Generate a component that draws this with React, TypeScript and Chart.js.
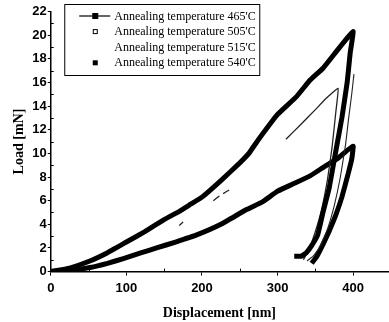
import React, { useEffect, useRef } from "react";
import { Chart, registerables } from "chart.js";

Chart.register(...registerables);

// ---- data ----
const xTicksMajor = [0, 100, 200, 300, 400];
const yTicksMajor = [0, 2, 4, 6, 8, 10, 12, 14, 16, 18, 20, 22];

const seriesLabels = [
  "Annealing temperature 465'C",
  "Annealing temperature 505'C",
  "Annealing temperature 515'C",
  "Annealing temperature 540'C",
];

// 465 (upper thick curve): loading then unloading
const s465X = [0, 25, 50, 75, 100, 125, 150, 170, 185, 200, 225, 250, 262, 275, 300, 325, 343, 360, 375, 390, 400,
  396, 392, 385, 377, 368, 360, 353, 345, 338, 331, 322];
const s465Y = [0, 0.3, 0.85, 1.6, 2.5, 3.4, 4.4, 5.1, 5.7, 6.3, 7.7, 9.2, 10.0, 11.2, 13.3, 14.8, 16.2, 17.2, 18.4, 19.6, 20.3,
  18.5, 16.0, 13.0, 10.2, 7.0, 5.0, 3.1, 2.2, 1.6, 1.3, 1.3];

// 505 (thin, mostly faint): visible fragments only
const s505X = [170, 175, 176, 215, 223, 224, 228, 236, 237, 311, 330, 350, 365, 380, 377, 372, 366, 358, 349, 341, 334];
const s505Y = [3.9, 4.2, null, 6.0, 6.4, null, 6.6, 6.9, null, 11.2, 12.4, 13.7, 14.7, 15.5, 13.5, 10.5, 7.8, 5.2, 3.2, 1.8, 1.0];

// 515 (thin): unloading branch
const s515X = [401, 398, 394, 390, 383, 375, 366, 356, 347, 339];
const s515Y = [16.7, 15.0, 13.0, 10.8, 8.0, 5.6, 3.6, 2.1, 1.3, 0.9];

// 540 (lower thick curve): loading then unloading
const s540X = [0, 25, 52, 75, 96, 120, 140, 165, 193, 225, 259, 280, 300, 320, 343, 360, 380, 395, 400,
  398, 393, 385, 377, 368, 360, 352, 345];
const s540Y = [0, 0.1, 0.35, 0.7, 1.1, 1.6, 2.0, 2.5, 3.1, 4.0, 5.25, 5.9, 6.8, 7.4, 8.1, 8.8, 9.6, 10.4, 10.6,
  9.5, 8.2, 6.3, 4.8, 3.4, 2.3, 1.3, 0.7];

const toPts = (xs: number[], ys: (number | null)[]) => xs.map((x, i) => ({ x, y: ys[i] }));

// legend marker kinds (style)
const legendMarkers = ["lineSquare", "openSquare", "none", "square"];

const minorTicksPlugin = {
  id: "minorTicks",
  afterDraw(chart: any) {
    const { ctx, scales } = chart;
    const xs = scales.x, ys = scales.y;
    ctx.save();
    ctx.strokeStyle = "#000";
    ctx.lineWidth = 1;
    for (let v = 50; v <= xs.max; v += 100) {
      const px = Math.round(xs.getPixelForValue(v)) + 0.5;
      ctx.beginPath();
      ctx.moveTo(px, ys.bottom);
      ctx.lineTo(px, ys.bottom - 3);
      ctx.stroke();
    }
    for (let v = 1; v < ys.max; v += 2) {
      const py = Math.round(ys.getPixelForValue(v)) + 0.5;
      ctx.beginPath();
      ctx.moveTo(xs.left, py);
      ctx.lineTo(xs.left + 3, py);
      ctx.stroke();
    }
    ctx.restore();
  },
};

const boxLegendPlugin = {
  id: "boxLegend",
  afterDraw(chart: any) {
    const { ctx, chartArea } = chart;
    const left = chartArea.left + 13.5;
    const top = chartArea.top - 7.5;
    const w = 195;
    const h = 71;
    ctx.save();
    ctx.fillStyle = "#fff";
    ctx.fillRect(left, top, w, h);
    ctx.strokeStyle = "#000";
    ctx.lineWidth = 1;
    ctx.strokeRect(left + 0.5, top + 0.5, w, h);
    ctx.font = '12px "Liberation Serif"';
    ctx.textBaseline = "middle";
    ctx.fillStyle = "#000";
    chart.data.datasets.forEach((ds: any, i: number) => {
      const y = top + 12 + i * 15.6;
      const cx = left + 31;
      const kind = legendMarkers[i];
      if (kind === "lineSquare") {
        ctx.beginPath();
        ctx.lineWidth = 1.2;
        ctx.moveTo(left + 15, y);
        ctx.lineTo(left + 46, y);
        ctx.stroke();
        ctx.fillRect(cx - 3, y - 3, 6, 6);
      } else if (kind === "openSquare") {
        ctx.lineWidth = 1;
        ctx.strokeRect(cx - 2, y - 2, 4, 4);
      } else if (kind === "square") {
        ctx.fillRect(cx - 2.5, y - 2.5, 5, 5);
      }
      ctx.fillText(ds.label, left + 50, y + 0.5);
    });
    ctx.restore();
  },
};

export default function App() {
  const ref = useRef<HTMLCanvasElement | null>(null);
  useEffect(() => {
    if (!ref.current) return;
    const chart = new Chart(ref.current, {
      type: "scatter",
      data: {
        datasets: [
          { label: seriesLabels[0], data: toPts(s465X, s465Y), showLine: true, borderColor: "#000", borderWidth: 5, pointRadius: 0, tension: 0.1, borderJoinStyle: "round", borderCapStyle: "butt" },
          { label: seriesLabels[1], data: toPts(s505X, s505Y), showLine: true, borderColor: "#222", borderWidth: 1.3, pointRadius: 0, tension: 0.1 },
          { label: seriesLabels[2], data: toPts(s515X, s515Y), showLine: true, borderColor: "#222", borderWidth: 1.1, pointRadius: 0, tension: 0.1 },
          { label: seriesLabels[3], data: toPts(s540X, s540Y), showLine: true, borderColor: "#000", borderWidth: 5, pointRadius: 0, tension: 0.1, borderJoinStyle: "round", borderCapStyle: "butt" },
        ] as any,
      },
      options: {
        animation: false,
        responsive: false,
        devicePixelRatio: 1,
        layout: { padding: { top: 11.5, right: 1, bottom: 0, left: 10.5 } },
        plugins: { legend: { display: false }, tooltip: { enabled: false } },
        scales: {
          x: {
            type: "linear",
            min: 0,
            max: 446,
            afterBuildTicks: (axis: any) => {
              axis.ticks = [...xTicksMajor.map((v) => ({ value: v })), { value: 446 }];
            },
            afterFit: (axis: any) => {
              axis.paddingRight = 0;
            },
            ticks: {
              color: "#000",
              font: { family: '"Liberation Sans"', weight: "bold", size: 13 },
              padding: 5,
              maxRotation: 0,
              autoSkip: false,
              callback: (v: any) => (xTicksMajor.includes(v) ? String(v) : ""),
            },
            grid: {
              drawOnChartArea: false,
              drawTicks: true,
              tickLength: 4,
              tickColor: (c: any) => (c.tick && xTicksMajor.includes(c.tick.value) ? "#000" : "rgba(0,0,0,0)"),
            },
            border: { display: true, color: "#000", width: 1.5 },
            title: {
              display: true,
              text: "Displacement [nm]",
              color: "#000",
              font: { family: '"Liberation Serif"', weight: "bold", size: 14 },
              padding: { top: 4, bottom: 0 },
            },
          },
          y: {
            type: "linear",
            min: 0,
            max: 22,
            afterBuildTicks: (axis: any) => {
              axis.ticks = yTicksMajor.map((v) => ({ value: v }));
            },
            ticks: {
              color: "#000",
              font: { family: '"Liberation Sans"', weight: "bold", size: 13 },
              padding: 1,
              callback: (v: any) => String(v),
            },
            grid: { drawOnChartArea: false, drawTicks: true, tickLength: 3, tickColor: "#000" },
            border: { display: true, color: "#000", width: 1.5 },
            title: {
              display: true,
              text: "Load [mN]",
              color: "#000",
              font: { family: '"Liberation Serif"', weight: "bold", size: 14 },
              padding: { top: 0, bottom: 4 },
            },
          },
        },
      },
      plugins: [minorTicksPlugin, boxLegendPlugin],
    });
    return () => chart.destroy();
  }, []);
  return (
    <div style={{ position: "absolute", left: 0, top: 0, width: 389, height: 322 }}>
      <canvas ref={ref} width={389} height={322} />
    </div>
  );
}
